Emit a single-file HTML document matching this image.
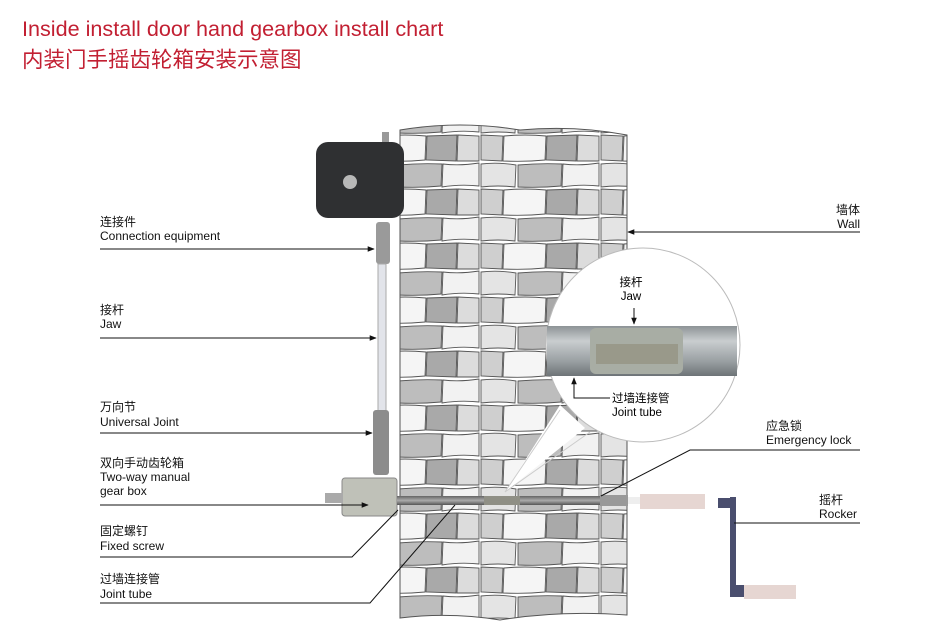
<!DOCTYPE html>
<html><head><meta charset="utf-8"><style>
body{margin:0;background:#fff;}
svg{display:block;font-family:"Liberation Sans","Noto Sans CJK SC",sans-serif;}
</style></head><body>
<svg width="940" height="634" viewBox="0 0 940 634" xmlns="http://www.w3.org/2000/svg">
<defs>
<pattern id="st" width="120" height="54" patternUnits="userSpaceOnUse">
<rect width="120" height="54" fill="#fff"/>
<g stroke="#555" stroke-width=".9">
<path d="M1,2 Q18,0 36,3 L35,25 Q18,23 1,25 Z" fill="#e4e4e4"/>
<path d="M38,3 Q60,1 82,2 L81,24 Q60,26 38,25 Z" fill="#bdbdbd"/>
<path d="M83,2 Q100,4 119,1 L119,24 Q100,22 82,25 Z" fill="#f2f2f2"/>
<path d="M1,27 L23,28 L22,53 L1,52 Z" fill="#cfcfcf"/>
<path d="M24,28 Q45,26 66,28 L65,52 Q45,54 23,53 Z" fill="#f5f5f5"/>
<path d="M67,28 L97,27 L96,53 L66,52 Z" fill="#a9a9a9"/>
<path d="M98,27 L119,28 L119,53 L97,53 Z" fill="#dcdcdc"/>
</g>
</pattern>
<marker id="ar" viewBox="0 0 10 10" refX="9" refY="5" markerWidth="7" markerHeight="7" orient="auto"><path d="M0,1 L10,5 L0,9 z" fill="#111"/></marker>
<linearGradient id="tb" x1="0" y1="0" x2="0" y2="1"><stop offset="0" stop-color="#8d9396"/><stop offset=".3" stop-color="#c9cdcf"/><stop offset=".7" stop-color="#9aa0a3"/><stop offset="1" stop-color="#6d7377"/></linearGradient>
<linearGradient id="rod" x1="0" y1="0" x2="0" y2="1"><stop offset="0" stop-color="#666"/><stop offset=".5" stop-color="#aaa"/><stop offset="1" stop-color="#555"/></linearGradient>
</defs>
<text x="22" y="36" font-size="21.6" fill="#c21f32">Inside install door hand gearbox install chart</text>
<text x="22" y="67" font-size="21.5" fill="#c21f32">内装门手摇齿轮箱安装示意图</text>

<path d="M400,130 Q460,120 520,130 Q575,125 627,135 L627,615 Q560,610 500,620 Q450,612 400,618 Z" fill="url(#st)" stroke="#555"/>

<rect x="382" y="132" width="7" height="14" fill="#999"/>
<rect x="316" y="142" width="88" height="76" rx="12" fill="#2f3032"/>
<circle cx="350" cy="182" r="7" fill="#b8b8b8"/>
<rect x="376" y="222" width="14" height="42" rx="3" fill="#9a9a9a"/>
<rect x="378" y="264" width="8" height="148" fill="#e2e4ea" stroke="#aaa"/>
<rect x="373" y="410" width="16" height="65" rx="3" fill="#8c8c8c"/>
<rect x="342" y="478" width="55" height="38" rx="3" fill="#bfc1b8" stroke="#888"/>
<rect x="325" y="493" width="18" height="10" fill="#aaa"/>
<rect x="397" y="496" width="230" height="9" fill="url(#rod)"/>
<rect x="484" y="496" width="36" height="9" fill="#8f8f85"/>
<rect x="600" y="495" width="28" height="11" fill="#999"/>
<rect x="628" y="497" width="12" height="7" fill="#eee"/>
<rect x="640" y="494" width="65" height="15" fill="#e6d6d2"/>
<rect x="718" y="498" width="12" height="10" fill="#4a4e6e"/>
<rect x="730" y="497" width="6" height="100" fill="#4a4e6e"/>
<rect x="736" y="585" width="8" height="12" fill="#4a4e6e"/>
<rect x="744" y="585" width="52" height="14" fill="#e6d6d2"/>

<path d="M560,405 L505,492 L585,428 Z" fill="#fff"/>
<circle cx="643" cy="345" r="97" fill="#fff" stroke="#bbb"/>
<path d="M560,410 L505,492 L590,432" fill="none" stroke="#ccc"/>
<rect x="547" y="326" width="190" height="50" fill="url(#tb)"/>
<rect x="590" y="328" width="93" height="46" rx="6" fill="#a8ada4"/>
<rect x="596" y="344" width="82" height="20" fill="#8a8570" opacity=".5"/>
<text x="631" y="286" font-size="11.5" text-anchor="middle">接杆</text>
<text x="631" y="300" font-size="11.5" text-anchor="middle">Jaw</text>
<line x1="634" y1="308" x2="634" y2="324" stroke="#111" marker-end="url(#ar)"/>
<polyline points="610,398 574,398 574,378" fill="none" stroke="#111" marker-end="url(#ar)"/>
<text x="612" y="402" font-size="11.5">过墙连接管</text>
<text x="612" y="416" font-size="11.5">Joint tube</text>

<g font-size="12" fill="#111">
<text x="100" y="226">连接件</text><text x="100" y="240">Connection equipment</text>
<text x="100" y="314">接杆</text><text x="100" y="328">Jaw</text>
<text x="100" y="411">万向节</text><text x="100" y="426">Universal Joint</text>
<text x="100" y="467">双向手动齿轮箱</text><text x="100" y="481">Two-way manual</text><text x="100" y="495">gear box</text>
<text x="100" y="535">固定螺钉</text><text x="100" y="550">Fixed screw</text>
<text x="100" y="583">过墙连接管</text><text x="100" y="598">Joint tube</text>
<text x="860" y="214" text-anchor="end">墙体</text><text x="860" y="228" text-anchor="end">Wall</text>
<text x="766" y="430">应急锁</text><text x="766" y="444">Emergency lock</text>
<text x="819" y="504">摇杆</text><text x="819" y="518">Rocker</text>
</g>
<g stroke="#111" stroke-width="1" fill="none">
<line x1="100" y1="249" x2="374" y2="249" marker-end="url(#ar)"/>
<line x1="100" y1="338" x2="376" y2="338" marker-end="url(#ar)"/>
<line x1="100" y1="433" x2="372" y2="433" marker-end="url(#ar)"/>
<line x1="100" y1="505" x2="368" y2="505" marker-end="url(#ar)"/>
<polyline points="100,557 352,557 398,510"/>
<polyline points="100,603 370,603 455,505"/>
<line x1="860" y1="232" x2="628" y2="232" marker-end="url(#ar)"/>
<polyline points="860,450 690,450 601,496"/>
<line x1="860" y1="523" x2="734" y2="523"/>
</g>
</svg>
</body></html>
